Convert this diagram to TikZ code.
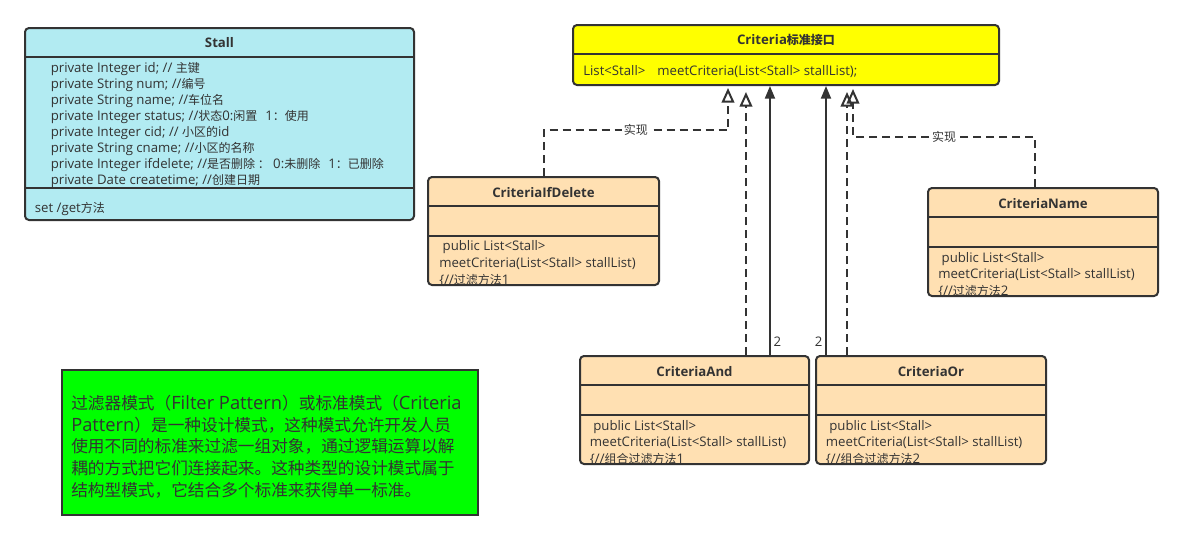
\documentclass[tikz,border=0pt]{standalone}
\usepackage{fontspec}
\setmainfont{Open Sans}[Scale=1.1]
\newfontfamily\cjk{Noto Sans CJK SC}
\newcommand{\zh}[1]{{\cjk #1}}
\usepackage{tikz}
\usetikzlibrary{arrows.meta}
\definecolor{edgegray}{HTML}{333333}
\definecolor{stallblue}{HTML}{B2EBF2}
\definecolor{implpeach}{HTML}{FFE0B2}
\definecolor{crityellow}{HTML}{FFFF00}
\definecolor{notegreen}{HTML}{00FF00}
\tikzstyle{line} = [draw=edgegray, line width=1.5pt]
\tikzstyle{realize} = [draw=edgegray, line width=1.5pt, dash pattern=on 6pt off 3.75pt, -{Triangle[open, width=9.5pt, length=11pt]}]
\tikzstyle{assoc} = [draw=edgegray, line width=1.5pt, -{Triangle[width=7.5pt, length=9.5pt]}]
\tikzstyle{cls_box} = [rectangle, draw=edgegray, line width=1.5pt, rounded corners=3pt, minimum width=172.5pt, minimum height=81pt, inner sep=0]
\tikzstyle{cls_title} = [font=\fontsize{9}{12}\selectfont\bfseries, text=edgegray, inner sep=0]
\tikzstyle{cls_text} = [font=\fontsize{9}{12.5}\selectfont, text=edgegray, align=left, anchor=west, inner sep=0]
\tikzstyle{real_label} = [font=\fontsize{9}{12}\selectfont, text=edgegray, fill=white, inner sep=1pt]
\tikzstyle{num_label} = [font=\fontsize{9}{12}\selectfont, text=edgegray, inner sep=2pt]
\tikzstyle{note} = [rectangle, draw=edgegray, line width=1.5pt, fill=notegreen, minimum width=312pt, minimum height=108.75pt]
\tikzstyle{note_text} = [font=\fontsize{12.5}{16.3}\selectfont, text=edgegray, align=left, anchor=west, inner sep=0]

\begin{document}
\begin{tikzpicture}[x=0.75pt, y=-0.75pt]
		\fill[white] (0,0) rectangle (1183,540);
		\useasboundingbox (0,0) rectangle (1183,540);

		% entity class
		\node[cls_box, fill=stallblue, minimum width=291.75pt, minimum height=144pt] (stall) at (219.5,124) {};
		\node[cls_title] at ([yshift=-12pt]stall.north) {Stall};
		\path [line] ([yshift=-22.5pt]stall.north west) to ([yshift=-22.5pt]stall.north east);
		\path [line] ([yshift=24.75pt]stall.south west) to ([yshift=24.75pt]stall.south east);
		\node[cls_text, font=\fontsize{9}{12}\selectfont] at ([xshift=19.9pt, yshift=-1pt]stall.west) {private Integer id; // \zh{主键}\\private String num; //\zh{编号}\\private String name; //\zh{车位名}\\private Integer status; //\zh{状态}0:\zh{闲置}\hspace{6pt}1\zh{：使用}\\private Integer cid; // \zh{小区的}id\\private String cname; //\zh{小区的名称}\\private Integer ifdelete; //\zh{是否删除 ：} 0:\zh{未删除}\hspace{6pt}1\zh{：已删除}\\private Date createtime; //\zh{创建日期}};
		\node[cls_text] at ([xshift=8pt, yshift=9.2pt]stall.south west) {set /get\zh{方法}};

		% interface
		\node[cls_box, fill=crityellow, minimum width=319.5pt, minimum height=45pt] (criteria) at (786,55) {};
		\node[cls_title] at ([yshift=-11.8pt]criteria.north) {Criteria\zh{标准接口}};
		\path [line] ([yshift=-22.5pt]criteria.north west) to ([yshift=-22.5pt]criteria.north east);
		\node[cls_text] at ([xshift=8.25pt, yshift=10.7pt]criteria.south west) {List<Stall>\hspace{9pt}meetCriteria(List<Stall> stallList);};

		% implementations
		\node[cls_box, fill=implpeach, minimum width=173.25pt] (crit_ifdelete) at (543.5,231) {};
		\node[cls_title] at ([yshift=-12.2pt]crit_ifdelete.north) {CriteriaIfDelete};
		\path [line] ([yshift=-22.5pt]crit_ifdelete.north west) to ([yshift=-22.5pt]crit_ifdelete.north east);
		\path [line] ([yshift=-45pt]crit_ifdelete.north west) to ([yshift=-45pt]crit_ifdelete.north east);
		\node[cls_text] at ([xshift=9pt, yshift=16.9pt]crit_ifdelete.south west) {\ public List<Stall>\\meetCriteria(List<Stall> stallList)\\\{//\zh{过滤方法}1};

		\node[cls_box, fill=implpeach] (crit_name) at (1043,242) {};
		\node[cls_title] at ([yshift=-12.2pt]crit_name.north) {CriteriaName};
		\path [line] ([yshift=-22.5pt]crit_name.north west) to ([yshift=-22.5pt]crit_name.north east);
		\path [line] ([yshift=-45pt]crit_name.north west) to ([yshift=-45pt]crit_name.north east);
		\node[cls_text] at ([xshift=8.25pt, yshift=16.5pt]crit_name.south west) {\ public List<Stall>\\meetCriteria(List<Stall> stallList)\\\{//\zh{过滤方法}2};

		\node[cls_box, fill=implpeach, minimum width=171.75pt] (crit_and) at (694.5,410) {};
		\node[cls_title] at ([yshift=-12.2pt]crit_and.north) {CriteriaAnd};
		\path [line] ([yshift=-22.5pt]crit_and.north west) to ([yshift=-22.5pt]crit_and.north east);
		\path [line] ([yshift=-45pt]crit_and.north west) to ([yshift=-45pt]crit_and.north east);
		\node[cls_text] at ([xshift=8pt, yshift=16.7pt]crit_and.south west) {\ public List<Stall>\\meetCriteria(List<Stall> stallList)\\\{//\zh{组合过滤方法}1};

		\node[cls_box, fill=implpeach] (crit_or) at (931,410) {};
		\node[cls_title] at ([yshift=-12.2pt]crit_or.north) {CriteriaOr};
		\path [line] ([yshift=-22.5pt]crit_or.north west) to ([yshift=-22.5pt]crit_or.north east);
		\path [line] ([yshift=-45pt]crit_or.north west) to ([yshift=-45pt]crit_or.north east);
		\node[cls_text] at ([xshift=8pt, yshift=16.7pt]crit_or.south west) {\ public List<Stall>\\meetCriteria(List<Stall> stallList)\\\{//\zh{组合过滤方法}2};

		% connectors to the interface
		\coordinate (ifd_turn) at (728,130);
		\path [realize, shorten >=1.5pt] (crit_ifdelete.north) |- node[real_label, pos=0.75] {\zh{实现}} (ifd_turn) -- (ifd_turn |- criteria.south);

		\coordinate (and_real) at ([xshift=38.6pt]crit_and.north);
		\path [realize, shorten >=4.5pt] (and_real) -- (and_real |- criteria.south);
		\coordinate (and_assoc) at ([xshift=56.6pt]crit_and.north);
		\path [assoc] (and_assoc) -- (and_assoc |- criteria.south) node[num_label, pos=0.05, right] {2};

		\coordinate (or_assoc) at ([xshift=-78.75pt]crit_or.north);
		\path [assoc] (or_assoc) -- (or_assoc |- criteria.south) node[num_label, pos=0.05, left] {2};
		\coordinate (or_real) at ([xshift=-63pt]crit_or.north);
		\path [realize, shorten >=4.5pt] (or_real) -- (or_real |- criteria.south);

		\coordinate (name_turn) at (853,137);
		\path [realize, shorten >=2.25pt] ([xshift=-6pt]crit_name.north) |- node[real_label, pos=0.75] {\zh{实现}} (name_turn) -- (name_turn |- criteria.south);

		% description
		\node[note] (note) at (270,442.5) {};
		\node[note_text] at ([xshift=7.5pt, yshift=-3pt]note.west) {\zh{过滤器模式（}Filter Pattern\zh{）或标准模式（}Criteria\\Pattern\zh{）是一种设计模式，这种模式允许开发人员}\\\zh{使用不同的标准来过滤一组对象，通过逻辑运算以解}\\\zh{耦的方式把它们连接起来。这种类型的设计模式属于}\\\zh{结构型模式，它结合多个标准来获得单一标准。}};
	\end{tikzpicture}
\end{document}
